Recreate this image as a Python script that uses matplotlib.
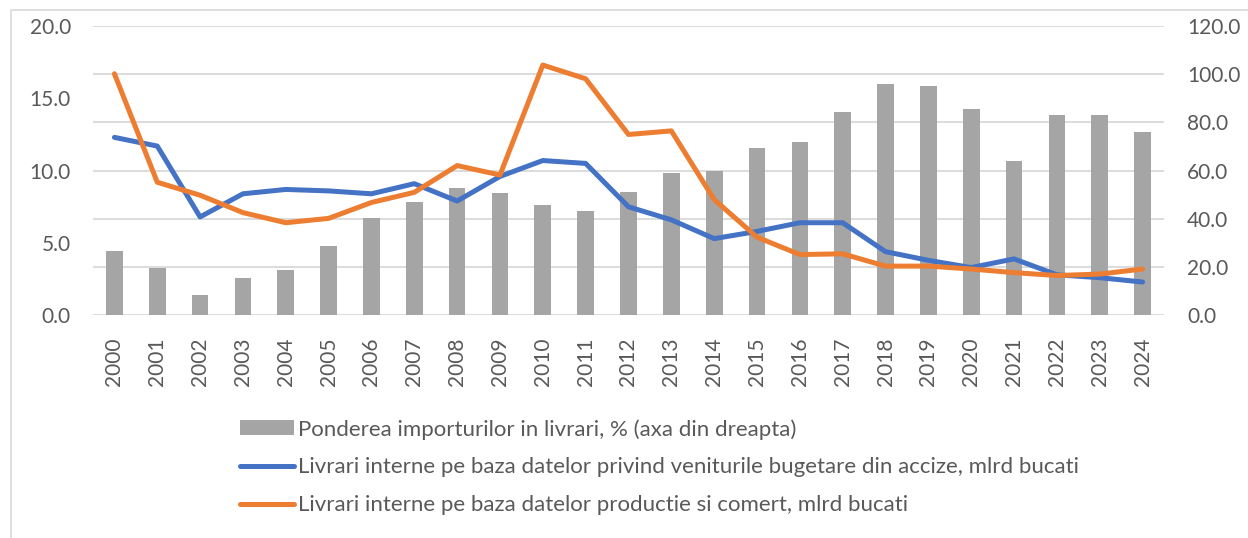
import matplotlib
matplotlib.use("Agg")
import matplotlib.pyplot as plt
from matplotlib.patches import Rectangle, Patch
from matplotlib.lines import Line2D
import numpy as np

plt.rcParams['font.family'] = ['Lato', 'DejaVu Sans']

years = [str(y) for y in range(2000, 2025)]
import_share = [26.7, 19.8, 8.4, 15.5, 18.9, 28.8, 40.3, 46.8, 52.9, 50.7,
                45.7, 43.2, 51.1, 59.1, 59.9, 69.5, 71.7, 84.3, 95.9, 95.2,
                85.7, 63.8, 82.9, 83.2, 76.0]
excise_deliveries = [12.3, 11.7, 6.8, 8.4, 8.7, 8.6, 8.4, 9.1, 7.9, 9.6,
                     10.7, 10.5, 7.5, 6.6, 5.3, 5.8, 6.4, 6.4, 4.4, 3.8,
                     3.3, 3.9, 2.8, 2.6, 2.3]
prod_trade_deliveries = [16.7, 9.2, 8.3, 7.1, 6.4, 6.7, 7.8, 8.5, 10.35, 9.7,
                         17.3, 16.35, 12.5, 12.75, 8.0, 5.4, 4.2, 4.25, 3.4, 3.4,
                         3.2, 2.95, 2.75, 2.85, 3.2]

labels = ["Ponderea importurilor in livrari, % (axa din dreapta)",
          "Livrari interne pe baza datelor privind veniturile bugetare din accize, mlrd bucati",
          "Livrari interne pe baza datelor productie si comert, mlrd bucati"]

TXT = '#595959'
GRID = '#d9d9d9'
BAR = '#a5a5a5'
BLUE = '#4472c4'
ORANGE = '#ed7d31'

W, H = 1248, 538
fig = plt.figure(figsize=(W/100, H/100), dpi=100)
fig.patches.append(Rectangle((11/W, -0.1), 1.2, 1 - 10/H + 0.1, transform=fig.transFigure,
                             fill=False, edgecolor=GRID, linewidth=1.2))

ax = fig.add_axes([93/W, 1 - 315.3/H, (1164-93)/W, (315.3-26)/H])
ax2 = ax.twinx()

x = np.arange(len(years))
ax2.bar(x, import_share, width=0.39, color=BAR, zorder=2)
ax.plot(x, excise_deliveries, color=BLUE, lw=3.6, solid_capstyle='round', solid_joinstyle='round', zorder=3)
ax.plot(x, prod_trade_deliveries, color=ORANGE, lw=3.6, solid_capstyle='round', solid_joinstyle='round', zorder=3)

ax.set_zorder(ax2.get_zorder() + 1)
ax.patch.set_visible(False)

ax.set_xlim(-0.5, len(years) - 0.5)
ax.set_ylim(0, 20)
ax2.set_ylim(0, 120)
ax.set_yticks(np.arange(0, 20.1, 5))
ax.set_yticklabels([f"{v:.1f}" for v in np.arange(0, 20.1, 5)])
ax2.set_yticks(np.arange(0, 120.1, 20))
ax2.set_yticklabels([f"{v:.1f}" for v in np.arange(0, 120.1, 20)])
ax.set_xticks(x)
ax.set_xticklabels(years, rotation=90)

for a in (ax, ax2):
    for s in a.spines.values():
        s.set_visible(False)
    a.tick_params(length=0, colors=TXT, labelsize=15)
ax.tick_params(axis='y', pad=16)
ax2.tick_params(axis='y', pad=16.5)
ax.tick_params(axis='x', pad=16)

ax2.yaxis.grid(True, color=GRID, lw=1.3)
ax2.set_axisbelow(True)

handles = [Patch(facecolor=BAR, edgecolor='none'),
           Line2D([], [], color=BLUE, lw=3.6, solid_capstyle='round'),
           Line2D([], [], color=ORANGE, lw=3.6, solid_capstyle='round')]
fig.legend(handles, labels, loc='upper left', bbox_to_anchor=(240/W, 1 - 419/H),
           frameon=False, fontsize=16, labelcolor=TXT, handlelength=2.45,
           handleheight=0.65, handletextpad=0.18, labelspacing=0.8,
           borderaxespad=0, borderpad=0)

fig.savefig("out.png", dpi=100)
